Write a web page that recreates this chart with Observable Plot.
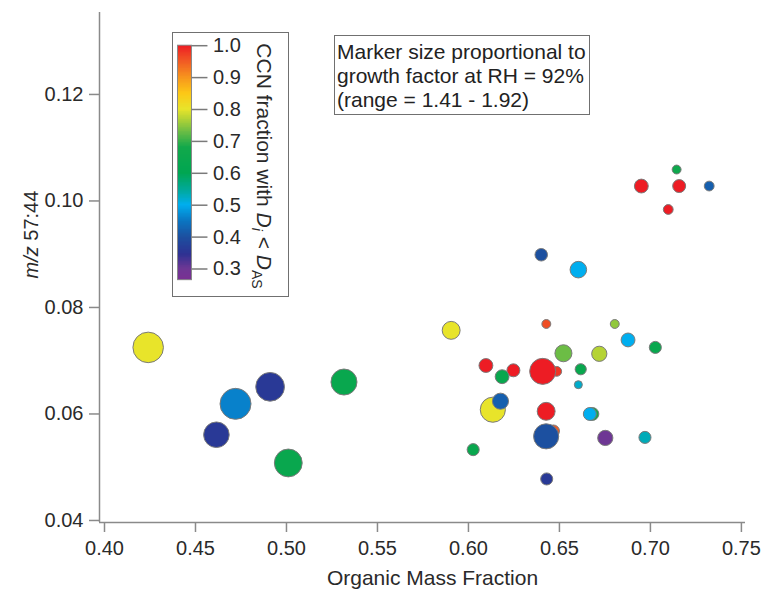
<!DOCTYPE html>
<html>
<head>
<meta charset="utf-8">
<script src="https://cdn.jsdelivr.net/npm/d3@7"></script>
<script src="https://cdn.jsdelivr.net/npm/@observablehq/plot@0.6"></script>
<style>
  html, body { margin: 0; padding: 0; background: #fff; }
  #wrap { position: relative; width: 767px; height: 595px; font-family: "Liberation Sans", Arial, sans-serif; color: #222; }
  #main { position: absolute; left: 0; top: 0; }
  #cb { position: absolute; left: 172px; top: 32px; width: 117px; height: 265px; box-sizing: border-box; border: 1.5px solid #707070; background: #fff; }
  #cb svg { position: absolute; left: 0; top: 0; }
  #note { position: absolute; left: 334px; top: 35px; width: 256px; height: 80px; box-sizing: border-box; border: 1.5px solid #707070; background: #fff;
          font-size: 21px; line-height: 24px; padding: 4px 0 0 2px; white-space: nowrap; color: #222; }
</style>
</head>
<body>
<div id="wrap">
  <div id="main"></div>
  <div id="cb"></div>
  <div id="note"></div>
</div>
<script>
// ---- data (drawing order) ----
const omf = [0.424, 0.472, 0.491, 0.4615, 0.501, 0.5316, 0.640, 0.6604, 0.5905, 0.6428, 0.6804, 0.6877, 0.6522, 0.6719,
             0.6096, 0.6247, 0.6185, 0.6485, 0.6408, 0.6617, 0.6604, 0.6134, 0.6176, 0.6427, 0.6681, 0.6667, 0.6467, 0.6427,
             0.6752, 0.6026, 0.6430, 0.697, 0.7027, 0.7144, 0.6950, 0.7158, 0.7323, 0.7098];
const mz57 = [0.0725, 0.0619, 0.0651, 0.0561, 0.0508, 0.0660, 0.0899, 0.0871, 0.0757, 0.0769, 0.0769, 0.0739, 0.0714, 0.0713,
              0.0691, 0.0682, 0.0670, 0.0680, 0.0680, 0.0684, 0.0655, 0.0608, 0.0624, 0.0605, 0.0600, 0.0600, 0.0568, 0.0558,
              0.0555, 0.0533, 0.0478, 0.0556, 0.0725, 0.1059, 0.1028, 0.1028, 0.1028, 0.0984];
const growth = [1.91, 1.92, 1.87, 1.80, 1.85, 1.81, 1.51, 1.60, 1.63, 1.43, 1.43, 1.54, 1.61, 1.57,
                1.54, 1.52, 1.54, 1.45, 1.81, 1.48, 1.41, 1.79, 1.59, 1.63, 1.52, 1.52, 1.50, 1.79,
                1.57, 1.50, 1.50, 1.50, 1.50, 1.43, 1.54, 1.52, 1.45, 1.45];
const ccnFrac = [0.80, 0.46, 0.36, 0.36, 0.64, 0.64, 0.40, 0.50, 0.80, 0.96, 0.75, 0.50, 0.73, 0.77,
                 1.00, 1.00, 0.64, 0.98, 1.00, 0.64, 0.52, 0.80, 0.42, 1.00, 0.68, 0.50, 0.95, 0.40,
                 0.30, 0.64, 0.36, 0.53, 0.64, 0.66, 1.00, 1.00, 0.42, 1.00];

const xTicks = [0.40, 0.45, 0.50, 0.55, 0.60, 0.65, 0.70, 0.75];
const yTicks = [0.04, 0.06, 0.08, 0.10, 0.12];
const cbTicks = [0.3, 0.4, 0.5, 0.6, 0.7, 0.8, 0.9, 1.0];
const xLabel = "Organic Mass Fraction";
const yLabel = "m/z 57:44";
const cbTitle = "CCN fraction with Di < DAS";
const noteLines = ["Marker size proportional to", "growth factor at RH = 92%", "(range = 1.41 - 1.92)"];

// rainbow colour scale (scale configuration)
const colorStops = [0.26, 0.30, 0.345, 0.40, 0.45, 0.50, 0.545, 0.60, 0.68, 0.73, 0.77, 0.80, 0.85, 0.90, 0.95, 1.00];
const colorRange = ["#7b2f93", "#6e3794", "#2e3192", "#1c50a0", "#0a76c2", "#00aeef", "#00a99d", "#00a651", "#12a84b",
                    "#6cbd45", "#b5d334", "#e8e42a", "#fcc716", "#f7941d", "#f15a24", "#ed1c24"];
const colorScale = {type: "linear", domain: colorStops, range: colorRange, interpolate: "rgb", clamp: true};

const data = omf.map((x, i) => ({x, y: mz57[i], gf: growth[i], ccn: ccnFrac[i]}));

const xDomain = [0.39725, 0.75225];
const yDomain = [0.03962, 0.13539];
const axisGray = "#8a8a8a";

const main = Plot.plot({
  width: 767, height: 595,
  marginLeft: 99, marginRight: 22, marginTop: 12, marginBottom: 73,
  style: {fontFamily: "'Liberation Sans', Arial, sans-serif", background: "white", color: "#2a2a2a"},
  x: {domain: xDomain},
  y: {domain: yDomain},
  r: {type: "linear", domain: [1.41, 1.92], range: [4, 15.5]},
  color: colorScale,
  marks: [
    Plot.axisX({ticks: xTicks, tickFormat: d => d.toFixed(2), tickSize: 10, tickPadding: 8, fontSize: 20,
                stroke: axisGray, strokeWidth: 1.5, fill: "#2a2a2a", label: null}),
    Plot.axisY({ticks: yTicks, tickFormat: d => d.toFixed(2), tickSize: 10, tickPadding: 6, fontSize: 20,
                stroke: axisGray, strokeWidth: 1.5, fill: "#2a2a2a", label: null}),
    Plot.ruleY([yDomain[0]], {stroke: axisGray, strokeWidth: 1.5}),
    Plot.ruleX([xDomain[0]], {stroke: axisGray, strokeWidth: 1.5}),
    Plot.dot(data, {x: "x", y: "y", r: "gf", fill: "ccn", stroke: "#7a7a7a", strokeWidth: 1, sort: null}),
    Plot.text([xLabel], {text: d => d, frameAnchor: "bottom", dx: 10, dy: 62, fontSize: 21, fill: "#2a2a2a"}),
    Plot.text([yLabel], {text: d => d, frameAnchor: "left", rotate: -90, dx: -68, dy: 11, fontSize: 20, fill: "#2a2a2a"})
  ]
});
document.getElementById("main").appendChild(main);

// italic m/z
d3.select(main).selectAll("text").filter(function() { return this.textContent === yLabel; }).each(function() {
  const t = d3.select(this);
  t.text("");
  t.append("tspan").attr("font-style", "italic").text("m/z");
  t.append("tspan").text(" 57:44");
});

// ---- colour bar legend ----
const strips = d3.range(0.265, 1.0, 0.0025);
const cb = Plot.plot({
  width: 114, height: 262,
  marginLeft: 0, marginRight: 0, marginTop: 0, marginBottom: 0,
  style: {fontFamily: "'Liberation Sans', Arial, sans-serif", background: "transparent", color: "#2a2a2a"},
  x: {domain: [0, 1], range: [4.5, 18.5], axis: null},
  y: {domain: [0.3, 1.0], range: [235.5, 12.2], axis: null},
  color: colorScale,
  marks: [
    Plot.rect(strips, {x1: 0, x2: 1, y1: d => d, y2: d => Math.min(1, d + 0.0032), fill: d => d + 0.00125, shapeRendering: "crispEdges"}),
    Plot.rect([0], {x1: 0, x2: 1, y1: 0.265, y2: 1.0, fill: "none", stroke: "#8a8a8a", strokeWidth: 1}),
    Plot.ruleY(cbTicks, {x1: 1, x2: 2.14, stroke: "#7a7a7a", strokeWidth: 1.5}),
    Plot.text(cbTicks, {x: 2.5, y: d => d, text: d => d.toFixed(1), textAnchor: "start", fontSize: 20, fill: "#2a2a2a"}),
    Plot.text([cbTitle], {x: 6.15, y: 0.623, text: d => d, rotate: 90, fontSize: 21, fill: "#2a2a2a"})
  ]
});
document.getElementById("cb").appendChild(cb);

d3.select(cb).selectAll("text").filter(function() { return this.textContent === cbTitle; }).each(function() {
  const t = d3.select(this);
  t.text("");
  t.append("tspan").text("CCN fraction with ");
  t.append("tspan").attr("font-style", "italic").text("D");
  t.append("tspan").attr("font-style", "italic").attr("font-size", 14).attr("dy", 5).text("i");
  t.append("tspan").attr("dy", -5).text(" < ");
  t.append("tspan").attr("font-style", "italic").text("D");
  t.append("tspan").attr("font-size", 14).attr("dy", 5).text("AS");
});

// ---- annotation box ----
document.getElementById("note").innerHTML = noteLines.map(s => `<div>${s}</div>`).join("");
</script>
</body>
</html>
